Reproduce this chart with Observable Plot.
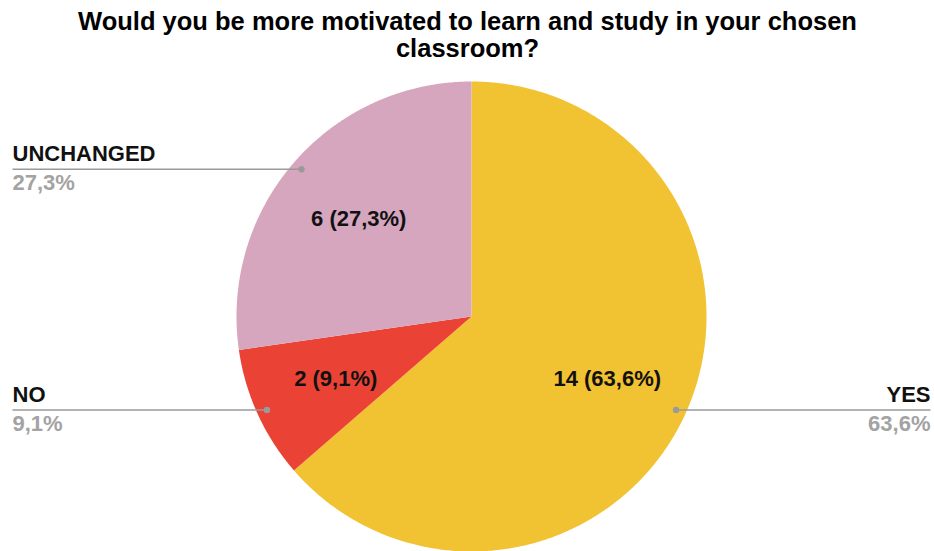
<!DOCTYPE html>
<html>
<head>
<meta charset="utf-8">
<script src="https://cdn.jsdelivr.net/npm/d3@7"></script>
<script src="https://cdn.jsdelivr.net/npm/@observablehq/plot@0.6"></script>
<style>
  html, body { margin: 0; padding: 0; background: #fff; }
  #chart svg { display: block; }
</style>
</head>
<body>
<div id="chart"></div>
<script>
// ---- data ----
const title = "Would you be more motivated to learn and study in your chosen\nclassroom?";
const categories = ["YES", "NO", "UNCHANGED"];
const counts = [14, 2, 6];
const colors = ["#F1C232", "#EA4335", "#D5A6BD"];
const labelSide = ["right", "left", "left"];

// ---- layout (pixels) ----
const W = 934, H = 551;
const CX = 471, CY = 316, R = 235;   // pie center and radius in pixels
const leaderR = 0.957, innerR = 0.635;
const leftEnd = 12, rightEnd = 930;

// scales map unit-circle coordinates onto the pixel frame
const xDomain = [(0 - CX) / R, (W - CX) / R];
const yDomain = [(CY - H) / R, CY / R];
const toU = px => (px - CX) / R;

const total = d3.sum(counts);
const fmt = v => (Math.round(v * 1000) / 10).toFixed(1).replace(".", ",") + "%";
const pie = d3.pie().sort(null).value(d => d.count);
const rows = categories.map((name, i) => ({name, count: counts[i], color: colors[i], side: labelSide[i]}));
const arcs = pie(rows);

// polygon vertices of each slice
const poly = [];
for (const a of arcs) {
  poly.push({name: a.data.name, u: 0, v: 0});
  const n = Math.max(2, Math.ceil((a.endAngle - a.startAngle) / (Math.PI / 360)));
  for (let k = 0; k <= n; k++) {
    const t = a.startAngle + (a.endAngle - a.startAngle) * k / n;
    poly.push({name: a.data.name, u: Math.sin(t), v: Math.cos(t)});
  }
  poly.push({name: a.data.name, u: 0, v: 0});
}

const info = arcs.map(a => {
  const m = (a.startAngle + a.endAngle) / 2;
  const pct = fmt(a.data.count / total);
  return {
    name: a.data.name,
    side: a.data.side,
    pct,
    inner: `${a.data.count} (${pct})`,
    mu: Math.sin(m) * leaderR, mv: Math.cos(m) * leaderR,
    iu: Math.sin(m) * innerR, iv: Math.cos(m) * innerR,
    eu: a.data.side === "left" ? toU(leftEnd) : toU(rightEnd)
  };
});
const leftInfo = info.filter(d => d.side === "left");
const rightInfo = info.filter(d => d.side === "right");

const font = "'Liberation Sans', Arial, Helvetica, sans-serif";
const nameStyle = {x: "eu", y: "mv", text: "name", dy: -15, fontSize: 22, fontWeight: "bold", fill: "#111"};
const pctStyle = {x: "eu", y: "mv", text: "pct", dy: 14, fontSize: 22, fontWeight: "bold", fill: "#a3a3a3"};

const chart = Plot.plot({
  width: W, height: H,
  margin: 0,
  x: {domain: xDomain, axis: null},
  y: {domain: yDomain, axis: null},
  color: {domain: categories, range: colors},
  style: {fontFamily: font, background: "#fff", overflow: "visible"},
  marks: [
    Plot.line(poly, {x: "u", y: "v", z: "name", fill: "name", stroke: null, curve: "linear"}),
    Plot.link(info, {x1: "mu", y1: "mv", x2: "eu", y2: "mv", stroke: "#9a9a9a", strokeWidth: 1.6}),
    Plot.dot(info, {x: "mu", y: "mv", r: 3.2, fill: "#9a9a9a", stroke: null}),
    Plot.text(leftInfo, {...nameStyle, textAnchor: "start"}),
    Plot.text(rightInfo, {...nameStyle, textAnchor: "end"}),
    Plot.text(leftInfo, {...pctStyle, textAnchor: "start"}),
    Plot.text(rightInfo, {...pctStyle, textAnchor: "end"}),
    Plot.text(info, {x: "iu", y: "iv", text: "inner", fontSize: 22, fontWeight: "bold", fill: "#111"}),
    Plot.text([title], {frameAnchor: "top", lineAnchor: "top", dy: 10, text: d => d, fontSize: 25.5, fontWeight: "bold", fill: "#000", lineHeight: 1.06})
  ]
});
document.getElementById("chart").appendChild(chart);
</script>
</body>
</html>
